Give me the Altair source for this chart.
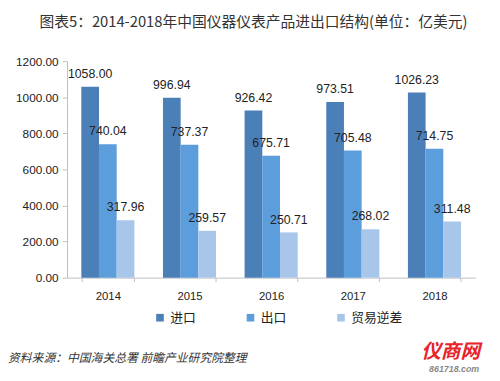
import altair as alt
import pandas as pd

years = ["2014", "2015", "2016", "2017", "2018"]
series = ["进口", "出口", "贸易逆差"]
imports = [1058.00, 996.94, 926.42, 973.51, 1026.23]
exports = [740.04, 737.37, 675.71, 705.48, 714.75]
deficit = [317.96, 259.57, 250.71, 268.02, 311.48]
colors = ["#4b7fb8", "#5c9ddb", "#a8c6ea"]

rows = []
for i, y in enumerate(years):
    for s, vals in zip(series, [imports, exports, deficit]):
        rows.append({"year": y, "series": s, "value": vals[i]})
df = pd.DataFrame(rows)

FONT = "Liberation Sans"
CJK = "Noto Sans CJK SC"

x = alt.X("year:N", title=None, sort=years,
          scale=alt.Scale(paddingInner=0.35, paddingOuter=0.175),
          axis=alt.Axis(labelAngle=0, domainColor="#bfbfbf", tickColor="#bfbfbf",
                        tickBand="extent", tickSize=4, labelPadding=9,
                        labelFontSize=11.5, labelColor="#222", labelFont=FONT))
xo = alt.XOffset("series:N", sort=series, scale=alt.Scale(paddingInner=0))
y = alt.Y("value:Q", title=None,
          scale=alt.Scale(domain=[0, 1200], nice=False),
          axis=alt.Axis(values=[0, 200, 400, 600, 800, 1000, 1200], format=".2f",
                        grid=False, domainColor="#bfbfbf", tickColor="#bfbfbf",
                        tickSize=5, labelPadding=4, labelFontSize=12,
                        labelColor="#222", labelFont=FONT))
color = alt.Color("series:N", sort=series,
                  scale=alt.Scale(domain=series, range=colors),
                  legend=alt.Legend(title=None, orient="none", direction="horizontal",
                                    legendX=88, legendY=254, symbolType="square",
                                    symbolSize=60, symbolStrokeWidth=0,
                                    columnPadding=22, gridAlign="all",
                                    labelFont=CJK, labelFontSize=13, labelColor="#222",
                                    labelOffset=4))

base = alt.Chart(df)
bars = base.mark_bar().encode(x=x, xOffset=xo, y=y, color=color)
labels = base.mark_text(dy=-13, fontSize=12.5, font=FONT, color="#222").encode(
    x=x, xOffset=xo, y=y, text=alt.Text("value:Q", format=".2f"))

notes = pd.DataFrame({"t": ["资料来源：中国海关总署 前瞻产业研究院整理"]})
source = alt.Chart(notes).mark_text(align="left", baseline="middle", fontSize=12,
                                    font=CJK, fontStyle="italic", color="#333").encode(
    x=alt.value(-60), y=alt.value(302), text="t:N")
logo_df = pd.DataFrame({"t": ["仪商网"]})
logo = alt.Chart(logo_df).mark_text(align="left", baseline="middle", fontSize=20,
                                    font=CJK, fontWeight="bold", fontStyle="italic",
                                    color="#e8232a").encode(
    x=alt.value(360), y=alt.value(296), text="t:N")
site_df = pd.DataFrame({"t": ["861718.com"]})
site = alt.Chart(site_df).mark_text(align="left", baseline="middle", fontSize=9,
                                    font=FONT, fontWeight="bold", fontStyle="italic",
                                    color="#888").encode(
    x=alt.value(368), y=alt.value(313), text="t:N")

chart = alt.layer(bars, labels, source, logo, site).properties(
    width=415, height=220,
    title=alt.TitleParams("图表5：2014-2018年中国仪器仪表产品进出口结构(单位：亿美元)",
                          font=CJK, fontSize=15, fontWeight="normal", color="#333",
                          anchor="middle", dx=-18, offset=26),
    padding={"left": 60, "top": 51, "right": 17, "bottom": 102},
    autosize="none",
).configure_view(stroke=None)

chart.save("out.html", embed_options={"renderer": "svg", "actions": False})
